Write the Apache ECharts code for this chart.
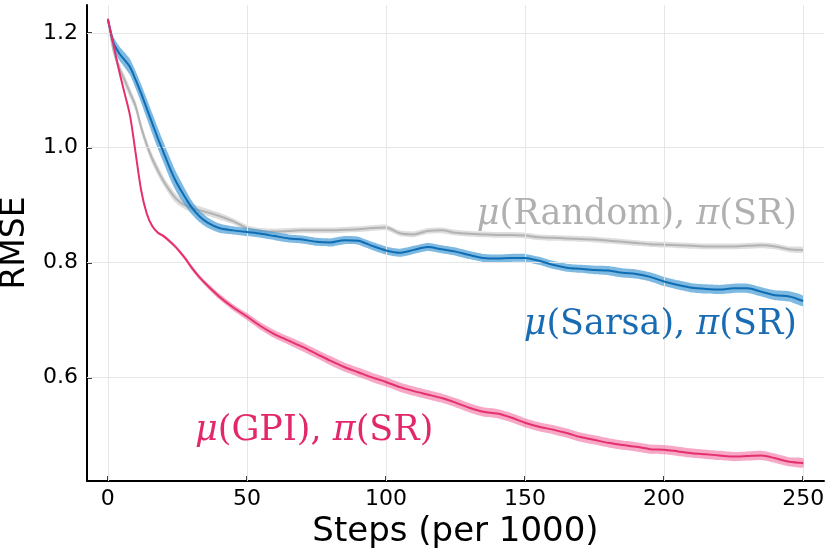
<!DOCTYPE html>
<html>
<head>
<meta charset="utf-8">
<script src="https://cdn.jsdelivr.net/npm/echarts@6/dist/echarts.min.js"></script>
<style>
html,body{margin:0;padding:0;background:#fff;}
#chart{width:830px;height:554px;}
</style>
</head>
<body>
<div id="chart"></div>
<script>
// ---- data ----
const steps = [0,2,4,6,8,10,12,14,16,18,20,22,24,26,28,30,33,36,40,45,50,55,60,65,70,75,80,85,90,95,100,105,110,115,120,125,130,135,140,145,150,155,160,165,170,175,180,185,190,195,200,205,210,215,220,225,230,235,240,245,250];

const gpi = [1.224,1.180,1.135,1.095,1.055,0.990,0.925,0.885,0.863,0.852,0.846,0.838,0.829,0.818,0.806,0.792,0.774,0.759,0.741,0.722,0.706,0.689,0.675,0.664,0.653,0.641,0.629,0.618,0.609,0.600,0.592,0.583,0.576,0.570,0.564,0.556,0.547,0.540,0.537,0.530,0.521,0.514,0.509,0.503,0.496,0.491,0.486,0.482,0.479,0.475,0.474,0.471,0.468,0.466,0.464,0.462,0.463,0.464,0.459,0.453,0.451];
const gpiSpread = [0.001,0.0015,0.0015,0.0015,0.0015,0.0015,0.0015,0.0015,0.002,0.002,0.0025,0.003,0.003,0.0035,0.0035,0.004,0.004,0.0045,0.005,0.0055,0.006,0.0065,0.007,0.007,0.0075,0.0075,0.008,0.008,0.008,0.008,0.008,0.008,0.008,0.008,0.008,0.008,0.008,0.008,0.008,0.008,0.008,0.008,0.008,0.008,0.008,0.008,0.008,0.008,0.008,0.008,0.008,0.008,0.008,0.008,0.008,0.008,0.008,0.008,0.008,0.008,0.008];

const sarsa = [1.224,1.183,1.165,1.153,1.140,1.118,1.094,1.068,1.042,1.016,0.992,0.968,0.946,0.928,0.912,0.897,0.880,0.869,0.860,0.856,0.853,0.850,0.846,0.842,0.840,0.836,0.835,0.839,0.838,0.829,0.821,0.817,0.822,0.827,0.823,0.819,0.813,0.808,0.807,0.808,0.808,0.803,0.796,0.791,0.789,0.787,0.786,0.782,0.780,0.775,0.767,0.761,0.756,0.754,0.753,0.755,0.755,0.749,0.743,0.741,0.733];
const sarsaSpread = [0.003,0.010,0.012,0.013,0.014,0.015,0.016,0.017,0.018,0.018,0.018,0.018,0.017,0.016,0.014,0.012,0.010,0.009,0.008,0.007,0.007,0.007,0.007,0.007,0.007,0.007,0.007,0.007,0.007,0.007,0.007,0.007,0.007,0.007,0.007,0.007,0.007,0.007,0.007,0.007,0.007,0.007,0.007,0.007,0.007,0.0075,0.008,0.008,0.008,0.008,0.008,0.008,0.008,0.008,0.008,0.008,0.008,0.008,0.0085,0.009,0.009];

const randomPol = [1.224,1.170,1.140,1.118,1.095,1.072,1.035,1.005,0.980,0.960,0.942,0.927,0.914,0.905,0.899,0.895,0.891,0.887,0.881,0.872,0.860,0.855,0.854,0.855,0.856,0.856,0.856,0.857,0.858,0.860,0.861,0.851,0.849,0.855,0.856,0.852,0.850,0.849,0.848,0.848,0.847,0.844,0.843,0.842,0.841,0.840,0.838,0.836,0.834,0.832,0.831,0.830,0.829,0.828,0.828,0.828,0.829,0.830,0.828,0.823,0.822];
const randomSpread = [0.003,0.007,0.008,0.009,0.009,0.009,0.009,0.009,0.009,0.009,0.008,0.008,0.008,0.007,0.007,0.007,0.007,0.006,0.006,0.005,0.005,0.005,0.005,0.005,0.005,0.005,0.005,0.005,0.005,0.005,0.005,0.005,0.005,0.005,0.005,0.005,0.005,0.005,0.005,0.005,0.005,0.005,0.005,0.005,0.005,0.005,0.005,0.005,0.005,0.005,0.005,0.005,0.005,0.005,0.005,0.005,0.005,0.005,0.005,0.005,0.005];

const xTicks = [0,50,100,150,200,250];
const yTicks = [0.6,0.8,1.0,1.2];
const yTickLabels = ['0.6','0.8','1.0','1.2'];

// ---- helpers ----
function pairs(vals){ return steps.map((s,i)=>[s,vals[i]]); }
function band(vals, spread, color, z){
  return {
    type:'custom', silent:true, z:z, clip:true,
    data:[[steps[0], vals[0]]],
    renderItem:function(params, api){
      const pts=[];
      for(let i=0;i<steps.length;i++) pts.push(api.coord([steps[i], vals[i]+spread[i]]));
      for(let i=steps.length-1;i>=0;i--) pts.push(api.coord([steps[i], vals[i]-spread[i]]));
      return {type:'polygon', shape:{points:pts, smooth:0.2}, style:{fill:color}};
    }
  };
}
function line(vals, color, z){
  return {type:'line', data:pairs(vals), showSymbol:false, symbol:'none', smooth:0.3, silent:true, z:z,
    lineStyle:{color:color, width:2}, itemStyle:{color:color}};
}

const grey = '#b3b3b3', blue = '#0f6db4', pink = '#e5306e';

const chart = echarts.init(document.getElementById('chart'), null, {renderer:'canvas'});
chart.setOption({
  animation:false,
  backgroundColor:'#ffffff',
  grid:{left:87, right:6, top:5, bottom:73, containLabel:false, outerBoundsMode:'none'},
  xAxis:{
    type:'value', min:-7.5, max:257.5,
    name:'Steps (per 1000)', nameLocation:'middle', nameGap:30,
    nameTextStyle:{fontFamily:'DejaVu Sans', fontSize:34, color:'#000'},
    axisLine:{show:true, onZero:false, lineStyle:{color:'#000', width:2}},
    axisTick:{show:true, inside:true, length:5, customValues:xTicks, lineStyle:{color:'#000', width:1.5}},
    axisLabel:{customValues:xTicks, fontFamily:'DejaVu Sans', fontSize:22, color:'#000', margin:7},
    splitLine:{show:false}
  },
  yAxis:{
    type:'value', min:0.4195, max:1.2485,
    name:'RMSE', nameLocation:'middle', nameGap:49,
    nameTextStyle:{fontFamily:'DejaVu Sans', fontSize:33, color:'#000'},
    axisLine:{show:true, onZero:false, lineStyle:{color:'#000', width:2}},
    axisTick:{show:true, inside:true, length:5, customValues:yTicks, lineStyle:{color:'#000', width:1.5}},
    axisLabel:{customValues:yTicks, fontFamily:'DejaVu Sans', fontSize:22, color:'#000', margin:9,
      formatter:function(v){ const k=yTicks.findIndex(t=>Math.abs(t-v)<1e-9); return k>=0?yTickLabels[k]:v.toFixed(1); }},
    splitLine:{show:false}
  },
  series:[
    {type:'line', data:[], z:1, silent:true,
      markLine:{silent:true, symbol:['none','none'], label:{show:false},
        lineStyle:{color:'#e6e6e6', width:1, type:'solid'},
        data: xTicks.map(v=>({xAxis:v})).concat(yTicks.map(v=>({yAxis:v})))}},
    band(randomPol, randomSpread, 'rgba(195,195,195,0.55)', 2),
    line(randomPol, grey, 3),
    band(sarsa, sarsaSpread, 'rgba(70,155,212,0.7)', 4),
    line(sarsa, blue, 5),
    band(gpi, gpiSpread, 'rgba(240,110,160,0.6)', 6),
    line(gpi, pink, 7)
  ],
  graphic:[
    {type:'text', right:33, top:197, silent:true, z:10,
      style:{text:'{i|μ}{n|(Random), }{i|π}{n|(SR)}', fill:'#b0b0b0',
        rich:{i:{fontFamily:'DejaVu Serif', fontStyle:'italic', fontSize:35, fill:'#b0b0b0'},
              n:{fontFamily:'DejaVu Serif', fontSize:35, fill:'#b0b0b0'}}}},
    {type:'text', right:33, top:307, silent:true, z:10,
      style:{text:'{i|μ}{n|(Sarsa), }{i|π}{n|(SR)}', fill:'#1a6cb2',
        rich:{i:{fontFamily:'DejaVu Serif', fontStyle:'italic', fontSize:35, fill:'#1a6cb2'},
              n:{fontFamily:'DejaVu Serif', fontSize:35, fill:'#1a6cb2'}}}},
    {type:'text', left:195, top:413, silent:true, z:10,
      style:{text:'{i|μ}{n|(GPI), }{i|π}{n|(SR)}', fill:'#e2286a',
        rich:{i:{fontFamily:'DejaVu Serif', fontStyle:'italic', fontSize:35, fill:'#e2286a'},
              n:{fontFamily:'DejaVu Serif', fontSize:35, fill:'#e2286a'}}}}
  ]
});
</script>
</body>
</html>
